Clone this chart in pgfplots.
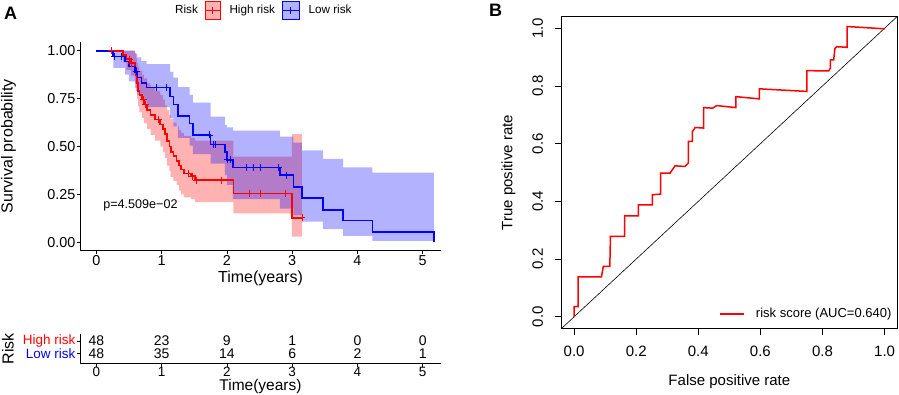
\documentclass[border=0pt]{standalone}
\usepackage{fontspec}
\setmainfont{Liberation Sans}
\usepackage{pgfplots}
\pgfplotsset{compat=1.18}
\usepackage{pgfplotstable}
\usepgfplotslibrary{fillbetween}

\definecolor{kmred}{RGB}{255,0,0}
\definecolor{kmblue}{RGB}{0,0,255}

\pgfplotstableread{
t S lo hi
0.00 1.000 1.000 1.000
0.41 0.978 0.940 1.000
0.46 0.956 0.900 1.000
0.53 0.935 0.870 1.000
0.59 0.910 0.830 0.990
0.61 0.870 0.790 0.960
0.625 0.830 0.750 0.935
0.64 0.790 0.710 0.915
0.66 0.770 0.680 0.895
0.70 0.745 0.650 0.875
0.73 0.720 0.620 0.855
0.78 0.690 0.590 0.830
0.83 0.665 0.560 0.810
0.90 0.640 0.530 0.790
0.98 0.615 0.500 0.770
1.02 0.590 0.470 0.745
1.05 0.565 0.440 0.715
1.08 0.530 0.400 0.690
1.12 0.500 0.370 0.665
1.14 0.470 0.340 0.645
1.18 0.450 0.320 0.625
1.23 0.425 0.300 0.605
1.27 0.400 0.270 0.585
1.30 0.380 0.250 0.570
1.34 0.360 0.235 0.555
1.45 0.345 0.225 0.545
1.51 0.325 0.210 0.530
2.10 0.255 0.151 0.447
2.995 0.128 0.030 0.564
3.15 0.128 0.030 0.564
}\highrisk

\pgfplotstableread{
t S lo hi
0.00 1.000 1.000 1.000
0.26 0.969 0.910 1.000
0.44 0.943 0.875 1.000
0.50 0.917 0.840 1.000
0.59 0.890 0.805 0.985
0.63 0.860 0.770 0.965
0.69 0.830 0.735 0.945
0.77 0.807 0.705 0.930
1.13 0.760 0.650 0.890
1.18 0.720 0.605 0.860
1.25 0.660 0.545 0.810
1.43 0.620 0.505 0.769
1.48 0.560 0.460 0.729
1.75 0.510 0.410 0.656
1.97 0.470 0.350 0.612
2.00 0.430 0.300 0.600
2.09 0.390 0.225 0.583
2.81 0.350 0.175 0.551
3.02 0.290 0.140 0.520
3.15 0.230 0.108 0.480
3.47 0.170 0.068 0.435
3.78 0.113 0.033 0.391
4.23 0.055 0.007 0.363
5.17 0.000 0.007 0.363
}\lowrisk

\pgfplotstableread{
t S
0.23 1.000
0.51 0.956
0.54 0.935
0.72 0.745
0.75 0.720
0.95 0.640
1.41 0.360
1.48 0.345
1.53 0.325
1.91 0.325
2.34 0.255
2.51 0.255
2.89 0.255
3.15 0.128
}\highcens

\pgfplotstableread{
t S
0.28 0.969
0.39 0.969
0.62 0.890
0.92 0.807
1.08 0.807
1.73 0.560
1.79 0.510
1.83 0.510
2.01 0.430
2.06 0.430
2.30 0.390
2.40 0.390
2.51 0.390
2.79 0.390
2.91 0.350
}\lowcens

\pgfplotstableread{
x y n
0 2 48
1 2 23
2 2 9
3 2 1
4 2 0
5 2 0
0 1 48
1 1 35
2 1 14
3 1 6
4 1 2
5 1 1
}\risktab

\pgfplotstableread{
x y
0.000 0.000
0.000 0.035
0.013 0.035
0.013 0.138
0.088 0.138
0.094 0.175
0.115 0.175
0.117 0.279
0.163 0.279
0.163 0.350
0.207 0.350
0.207 0.388
0.252 0.388
0.252 0.423
0.279 0.425
0.279 0.498
0.309 0.498
0.325 0.523
0.357 0.521
0.368 0.533
0.368 0.608
0.381 0.608
0.381 0.642
0.390 0.656
0.417 0.654
0.417 0.725
0.446 0.723
0.459 0.732
0.521 0.725
0.521 0.763
0.597 0.755
0.597 0.790
0.750 0.781
0.750 0.853
0.820 0.852
0.825 0.861
0.825 0.890
0.836 0.890
0.840 0.930
0.846 0.936
0.879 0.934
0.879 1.006
1.000 0.998
}\roc

\begin{document}
\begin{tikzpicture}[x=1pt,y=1pt]

% ---------- KM plot ----------
\begin{axis}[
  scale only axis, width=361pt, height=209pt,
  at={(80pt,143.3pt)}, anchor=south west,
  xmin=-0.25, xmax=5.28, ymin=-0.044, ymax=1.047,
  axis x line*=bottom, axis y line*=left,
  axis line style={-, line width=0.6pt},
  tick align=outside, major tick length=3pt,
  tick style={line width=0.6pt, black},
  xtick={0,1,2,3,4,5}, xticklabels={0,1,2,3,4,5},
  ytick={0,0.25,0.5,0.75,1}, yticklabels={0.00,0.25,0.50,0.75,1.00},
  tick label style={font=\fontsize{14.4}{16}\selectfont},
  xticklabel style={inner sep=2pt},
  yticklabel style={inner sep=1.5pt},
  xlabel={Time(years)}, ylabel={Survival probability},
  label style={font=\fontsize{16}{18}\selectfont},
  xlabel style={at={(axis description cs:0.5,-0.1335)}, anchor=center},
  ylabel style={at={(axis description cs:-0.198,0.5)}, anchor=center},
  clip=false,
  legend columns=3,
  legend style={draw=none, fill=none, at={(axis description cs:0.2382,1.1493)}, anchor=west,
    font=\fontsize{11.7}{13}\selectfont, inner sep=0pt, nodes={inner sep=0pt},
    /tikz/every odd column/.append style={column sep=9pt},
    /tikz/every even column/.append style={column sep=6pt}},
]
\addplot[name path=rhi, const plot, draw=none, forget plot] table[x=t,y=hi]{\highrisk};
\addplot[name path=rlo, const plot, draw=none, forget plot] table[x=t,y=lo]{\highrisk};
\addplot[fill=kmred, fill opacity=0.3, draw=none, forget plot] fill between[of=rhi and rlo];
\addplot[name path=bhi, const plot, draw=none, forget plot] table[x=t,y=hi]{\lowrisk};
\addplot[name path=blo, const plot, draw=none, forget plot] table[x=t,y=lo]{\lowrisk};
\addplot[fill=kmblue, fill opacity=0.3, draw=none, forget plot] fill between[of=bhi and blo];

\addplot[const plot, kmred, line width=1.6pt, forget plot] table[x=t,y=S]{\highrisk};
\addplot[const plot, kmblue, line width=1.6pt, forget plot] table[x=t,y=S]{\lowrisk};
\addplot[only marks, mark=+, mark size=3.5pt, kmred, line width=0.9pt, forget plot] table[x=t,y=S]{\highcens};
\addplot[only marks, mark=+, mark size=3.5pt, kmblue, line width=0.9pt, forget plot] table[x=t,y=S]{\lowcens};

\addlegendimage{empty legend}
\addlegendentry{Risk}
\addlegendimage{legend image code/.code={
  \fill[kmred, fill opacity=0.3] (0pt,-8.8pt) rectangle (15pt,8.8pt);
  \draw[kmred, line width=1.6pt] (0pt,0pt) -- (15pt,0pt);
  \draw[kmred, line width=0.8pt] (7.5pt,-3.5pt) -- (7.5pt,3.5pt);}}
\addlegendentry{High risk}
\addlegendimage{legend image code/.code={
  \fill[kmblue, fill opacity=0.3] (0pt,-8.8pt) rectangle (17pt,8.8pt);
  \draw[kmblue, line width=1.6pt] (0pt,0pt) -- (17pt,0pt);
  \draw[kmblue, line width=0.8pt] (8.5pt,-3.5pt) -- (8.5pt,3.5pt);}}
\addlegendentry{Low risk}

\node[anchor=west, inner sep=0pt, font=\fontsize{12.6}{14}\selectfont] at (axis cs:0.104,0.195) {p=4.509e−02};
\end{axis}

% ---------- Risk table ----------
\begin{axis}[
  scale only axis, width=361pt, height=29.6pt,
  at={(80pt,30.4pt)}, anchor=south west,
  xmin=-0.25, xmax=5.28, ymin=0.206, ymax=2.556,
  axis x line*=bottom, axis y line*=left,
  axis line style={-, line width=0.6pt},
  tick align=outside, major tick length=3pt,
  tick style={line width=0.6pt, black},
  xtick={0,1,2,3,4,5}, xticklabels={0,1,2,3,4,5},
  ytick={1,2}, yticklabels={\textcolor{kmblue}{Low risk},\textcolor{kmred}{High risk}},
  xticklabel style={font=\fontsize{13.5}{14}\selectfont, inner sep=0.5pt},
  yticklabel style={font=\fontsize{13.5}{14}\selectfont, inner sep=1.5pt},
  xlabel={Time(years)}, ylabel={Risk},
  label style={font=\fontsize{16}{18}\selectfont},
  xlabel style={at={(axis description cs:0.5,-1.027)}, anchor=south, inner sep=0pt, font=\fontsize{15.5}{16}\selectfont},
  ylabel style={at={(axis description cs:-0.1995,0.5)}, anchor=center},
  clip=false,
]
\addplot[draw=none, mark=none, nodes near coords, point meta=explicit symbolic,
  nodes near coords style={anchor=center, font=\fontsize{14}{15}\selectfont, text=black, inner sep=0pt}]
  table[x=x,y=y,meta=n]{\risktab};
\end{axis}

% ---------- ROC ----------
\begin{axis}[
  scale only axis, width=335.3pt, height=311.6pt,
  at={(561.7pt,65.7pt)}, anchor=south west,
  xmin=-0.04, xmax=1.04, ymin=-0.04, ymax=1.04,
  axis line style={line width=0.6pt},
  tick align=outside, major tick length=7pt,
  tick style={line width=0.6pt, black},
  xtick pos=bottom, ytick pos=left,
  xtick={0,0.2,0.4,0.6,0.8,1}, xticklabels={0.0,0.2,0.4,0.6,0.8,1.0},
  ytick={0,0.2,0.4,0.6,0.8,1}, yticklabels={0.0,0.2,0.4,0.6,0.8,1.0},
  tick label style={font=\fontsize{15}{17}\selectfont},
  xticklabel style={inner sep=2pt, yshift=-9pt},
  yticklabel style={xshift=-9.4pt, rotate=90, anchor=south, inner sep=2pt},
  xlabel={False positive rate}, ylabel={True positive rate},
  label style={font=\fontsize{15}{17}\selectfont},
  xlabel style={at={(axis description cs:0.5,-0.1714)}, anchor=center},
  ylabel style={at={(axis description cs:-0.159,0.5)}, anchor=center},
  legend style={draw=none, fill=none, at={(axis description cs:0.984,0.046)}, anchor=east,
    font=\fontsize{13}{15}\selectfont, inner sep=0pt, nodes={inner sep=0pt},
    /tikz/every odd column/.append style={column sep=11pt}},
  legend image code/.code={\draw[#1, line width=1.5pt] (0pt,0pt) -- (24pt,0pt);},
]
\addplot[black, line width=0.6pt, forget plot] coordinates {(-0.04,-0.04) (1.04,1.04)};
\addplot[kmred, line width=1.5pt] table[x=x,y=y]{\roc};
\addlegendentry{risk score (AUC=0.640)}
\end{axis}

\node[font=\bfseries\fontsize{18}{20}\selectfont, inner sep=0pt] at (10.5,380.5) {A};
\node[font=\bfseries\fontsize{18}{20}\selectfont, inner sep=0pt] at (495.5,383.5) {B};

\pgfresetboundingbox
\path[use as bounding box] (0,0) rectangle (899,394);
\end{tikzpicture}
\end{document}
